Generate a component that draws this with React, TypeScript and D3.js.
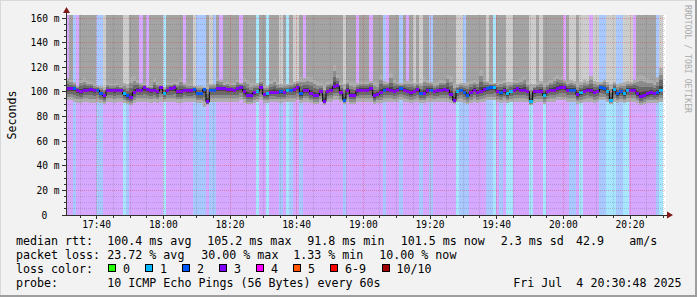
import React from "react";
import * as d3 from "d3";

// ---------- data ----------
const START = new Date(2025, 6, 4, 17, 30, 48);
const END = new Date(2025, 6, 4, 20, 30, 48);
const Y_MAX = 162.44;

// pings lost (out of 10) per 1-minute step
const lossPings = [
  3, 3, 2, 3, 3, 3, 3, 3, 3, 2,
  2, 3, 3, 3, 3, 3, 3, 1, 2, 3,
  3, 3, 3, 3, 3, 3, 3, 3, 3, 1,
  3, 3, 3, 3, 3, 3, 3, 3, 2, 2,
  2, 2, 3, 2, 2, 3, 3, 3, 3, 3,
  3, 3, 3, 3, 3, 3, 3, 1, 3, 3,
  1, 3, 3, 3, 2, 3, 1, 2, 3, 3,
  2, 3, 3, 3, 3, 3, 3, 3, 3, 3,
  3, 3, 3, 2, 3, 3, 3, 3, 3, 3,
  3, 3, 3, 3, 3, 2, 3, 3, 3, 3,
  2, 3, 3, 3, 3, 3, 2, 3, 3, 2,
  3, 3, 3, 3, 3, 3, 3, 1, 2, 2,
  2, 3, 3, 3, 3, 3, 2, 2, 1, 3,
  2, 3, 1, 1, 3, 3, 3, 3, 3, 1,
  3, 3, 3, 1, 3, 3, 3, 3, 3, 3,
  3, 2, 2, 3, 1, 3, 3, 3, 3, 3,
  2, 2, 1, 1, 1, 2, 2, 1, 1, 3,
  3, 3, 3, 3, 3, 3, 3, 2, 1,
];

// shade above the smoke: 0 = grey, 1 = light grey, 2 = none (loss colour shows)
const topShade = [
  2, 0, 2, 2, 0, 0, 0, 0, 0, 2,
  2, 1, 0, 0, 0, 0, 0, 1, 1, 0,
  0, 0, 2, 0, 2, 0, 0, 0, 0, 2,
  0, 0, 0, 0, 0, 2, 0, 0, 1, 2,
  2, 2, 0, 1, 2, 0, 2, 0, 0, 0,
  0, 0, 2, 0, 0, 0, 0, 2, 0, 0,
  2, 0, 0, 0, 1, 0, 2, 0, 1, 1,
  0, 2, 0, 0, 0, 0, 0, 0, 0, 0,
  0, 0, 0, 1, 0, 0, 0, 2, 0, 0,
  0, 2, 0, 0, 0, 2, 2, 0, 0, 0,
  2, 0, 2, 0, 1, 0, 1, 0, 0, 2,
  0, 0, 0, 0, 0, 0, 0, 1, 1, 2,
  0, 0, 0, 0, 0, 0, 1, 0, 2, 0,
  0, 0, 1, 1, 0, 0, 0, 0, 0, 1,
  1, 0, 1, 0, 0, 0, 0, 0, 0, 2,
  0, 1, 1, 0, 1, 1, 1, 2, 1, 1,
  2, 2, 1, 1, 1, 2, 2, 1, 1, 1,
  2, 0, 0, 0, 0, 0, 0, 2, 1,
];

const medianMs = [
  102.6, 102.6, 102.6, 101.0, 100.4, 101.5, 101.5, 102.1, 101.5, 101.5,
  98.8, 96.7, 101.5, 101.5, 101.0, 101.5, 101.5, 98.3, 96.7, 95.6,
  99.9, 101.5, 101.5, 103.2, 102.1, 101.5, 101.5, 100.4, 103.7, 98.8,
  101.5, 102.6, 103.2, 100.4, 100.4, 101.5, 101.0, 101.0, 102.1, 98.8,
  98.8, 102.1, 91.8, 101.5, 101.5, 102.6, 102.6, 102.6, 102.1, 102.1,
  101.5, 102.6, 103.7, 100.4, 97.2, 97.2, 99.4, 100.4, 103.2, 97.8,
  98.3, 99.9, 99.9, 99.4, 100.4, 99.4, 101.5, 101.5, 102.1, 103.7,
  98.3, 101.0, 101.0, 98.8, 97.2, 97.2, 100.4, 92.3, 100.4, 101.5,
  104.3, 104.8, 99.9, 93.4, 101.5, 97.2, 97.2, 101.0, 101.5, 101.5,
  101.5, 102.6, 96.7, 97.7, 99.9, 101.5, 102.1, 101.5, 100.4, 101.5,
  102.6, 101.5, 100.4, 99.4, 100.4, 102.1, 98.8, 98.8, 101.0, 101.5,
  100.4, 101.0, 101.5, 102.1, 101.5, 97.7, 92.9, 100.4, 101.5, 99.9,
  97.2, 99.9, 101.5, 99.9, 100.4, 102.1, 102.6, 103.2, 103.7, 100.4,
  99.4, 101.0, 98.3, 100.4, 101.5, 102.6, 101.5, 101.5, 100.4, 92.3,
  100.4, 100.4, 100.4, 97.2, 100.4, 101.5, 101.5, 102.6, 103.7, 103.7,
  101.5, 101.5, 101.5, 97.7, 99.4, 100.4, 101.5, 101.0, 99.9, 100.4,
  103.7, 102.6, 100.4, 92.9, 102.1, 98.3, 100.4, 98.3, 101.5, 101.5,
  101.5, 98.3, 96.1, 97.2, 98.3, 99.4, 98.8, 99.4, 101.5,
];

const maxMs = [
  111, 110, 108, 105, 110, 111, 109, 108, 106, 105,
  105, 104, 107, 106, 106, 107, 105, 107, 106, 112,
  113, 110, 107, 107, 105, 105, 111, 108, 105, 104,
  107, 107, 108, 108, 111, 107, 106, 106, 105, 105,
  105, 104, 107, 106, 106, 111, 110, 107, 108, 107,
  107, 110, 107, 111, 110, 107, 107, 107, 110, 106,
  105, 109, 111, 108, 106, 107, 106, 107, 108, 109,
  112, 111, 112, 112, 110, 108, 107, 106, 108, 109,
  122, 114, 108, 106, 110, 108, 107, 107, 108, 108,
  108, 109, 108, 107, 114, 109, 108, 115, 110, 108,
  107, 108, 109, 109, 107, 108, 107, 112, 110, 108,
  107, 108, 110, 109, 114, 113, 107, 106, 107, 107,
  108, 109, 110, 109, 118, 110, 109, 108, 107, 108,
  109, 110, 108, 108, 110, 109, 111, 113, 108, 106,
  106, 108, 109, 107, 108, 110, 112, 114, 112, 110,
  108, 110, 109, 107, 108, 110, 109, 113, 109, 108,
  108, 110, 108, 106, 108, 106, 107, 108, 109, 108,
  110, 112, 114, 113, 111, 110, 108, 112, 119,
];

const minMs = [
  93, 93, 92, 91, 91, 92, 92, 91, 91, 92,
  91, 90, 92, 92, 91, 92, 92, 91, 90, 89,
  91, 92, 92, 92, 92, 91, 92, 91, 92, 92,
  92, 92, 92, 91, 91, 92, 92, 92, 92, 91,
  91, 88, 89, 92, 92, 92, 92, 92, 92, 92,
  92, 92, 93, 91, 90, 90, 91, 92, 93, 91,
  91, 92, 92, 92, 91, 92, 92, 92, 92, 93,
  91, 92, 92, 91, 90, 90, 92, 89, 92, 92,
  93, 93, 92, 90, 92, 90, 90, 92, 92, 92,
  92, 92, 90, 91, 91, 92, 92, 92, 92, 92,
  93, 92, 92, 91, 92, 92, 91, 91, 92, 92,
  92, 92, 92, 92, 92, 91, 90, 92, 92, 91,
  90, 91, 92, 91, 92, 92, 93, 93, 93, 92,
  91, 92, 91, 92, 92, 92, 92, 92, 92, 89,
  91, 92, 92, 90, 92, 92, 92, 93, 93, 93,
  92, 92, 92, 90, 91, 92, 92, 92, 91, 92,
  93, 93, 92, 90, 92, 91, 92, 91, 92, 92,
  92, 91, 89, 90, 91, 91, 91, 91, 92,
];

const yTickValues = [0, 20, 40, 60, 80, 100, 120, 140, 160];
const yTickLabels = ["0", "20 m", "40 m", "60 m", "80 m", "100 m", "120 m", "140 m", "160 m"];

const lossLegendLabels = ["0", "1", "2", "3", "4", "5", "6-9", "10/10"];
const lossLegendColors = ["#26ff00", "#00b8ff", "#0059ff", "#7e00ff", "#ff00ff", "#ff5500", "#ff0000", "#a10000"];
const lossBgColors = ["#b4ffa8", "#a8e6ff", "#a8c8ff", "#d6a8ff"];

const rttStats = ["100.4 ms avg", "105.2 ms max", "91.8 ms min", "101.5 ms now", "2.3 ms sd", "42.9", "am/s"];
const lossStats = ["23.72 % avg", "30.00 % max", "1.33 % min", "10.00 % now"];
const probeText = "10 ICMP Echo Pings (56 Bytes) every 60s";
const dateText = "Fri Jul  4 20:30:48 2025";

// ---------- styling ----------
const FONT = "DejaVu Sans Mono";
const TOP_SHADES = ["#a3a3a3", "#cccccc"];
const SMOKE_LAYERS = [
  { f: 1, c: "#adadad" },
  { f: 0.7, c: "#8c8c8c" },
  { f: 0.45, c: "#6a6a6a" },
  { f: 0.2, c: "#464646" },
];
const PRE: React.CSSProperties = { whiteSpace: "pre" };

function legendIndex(l: number) {
  if (l <= 5) return l;
  if (l < 10) return 6;
  return 7;
}

export default function App() {
  const left = 66, right = 666, top = 15, bottom = 215;
  const x = d3.scaleTime().domain([START, END]).range([left, right]);
  const y = d3.scaleLinear().domain([0, Y_MAX]).range([bottom, top]);

  const n = medianMs.length;
  const t = (k: number) => new Date(START.getTime() + k * 60000);
  const cols = d3.range(n).map((k) => ({
    x0: x(t(k)),
    x1: x(t(k + 1)),
    loss: lossPings[k],
    shade: topShade[k],
    med: medianMs[k],
    hi: maxMs[k],
    lo: Math.min(minMs[k], medianMs[k]),
  }));

  const minorTimes = d3.timeMinute.every(5)!.range(START, END);
  const majorTimes = minorTimes.filter((d) => d.getMinutes() % 20 === 0);
  const minorY = d3.range(0, Y_MAX, 5);
  const fmt = d3.timeFormat("%H:%M");
  const px = (v: number) => Math.floor(v) + 0.5;

  const stepLine = d3
    .line<[number, number]>()
    .x((d) => d[0])
    .y((d) => d[1])
    .curve(d3.curveStepAfter);
  const medPts: [number, number][] = cols.map((c) => [c.x0, y(c.med)]);
  medPts.push([cols[n - 1].x1, y(cols[n - 1].med)]);

  const rttX = [107.3, 207.3, 307.3, 400.7, 500.7, 576, 629.3];
  const lossX = [107.3, 201.3, 293.3, 379.3];
  const swX = [108, 145, 182, 219, 256, 293, 330, 381.5];

  const minorStroke = "rgba(100,100,100,0.28)";
  const majorStroke = "rgba(225,60,60,0.42)";

  return (
    <svg
      width={697}
      height={297}
      style={{ position: "absolute", left: 0, top: 0, fontFamily: FONT }}
    >
      <rect x={0} y={0} width={697} height={297} fill="#f2f2f2" />
      <rect x={0} y={0} width={697} height={1} fill="#d8d8d8" />
      <rect x={0} y={0} width={1} height={297} fill="#d8d8d8" />
      <rect x={0} y={295} width={697} height={2} fill="#9e9e9e" />
      <rect x={695} y={0} width={2} height={297} fill="#9e9e9e" />

      {/* canvas */}
      <rect x={left} y={top} width={right - left} height={bottom - top} fill="#ffffff" />

      <g shapeRendering="crispEdges">
        {cols.map((c, k) => (
          <rect
            key={"bg" + k}
            x={c.x0}
            y={top}
            width={c.x1 - c.x0}
            height={bottom - top}
            fill={lossBgColors[Math.min(c.loss, 3)]}
          />
        ))}
        {cols.map((c, k) =>
          c.shade < 2 ? (
            <rect
              key={"tp" + k}
              x={c.x0}
              y={top}
              width={c.x1 - c.x0}
              height={y(c.hi) - top}
              fill={TOP_SHADES[c.shade]}
            />
          ) : null
        )}
        {SMOKE_LAYERS.map((L, li) =>
          cols.map((c, k) => {
            const hi = c.med + (c.hi - c.med) * L.f;
            const lo = c.med - (c.med - c.lo) * L.f;
            return (
              <rect
                key={"sm" + li + "_" + k}
                x={c.x0}
                y={y(hi)}
                width={c.x1 - c.x0}
                height={y(lo) - y(hi)}
                fill={L.c}
              />
            );
          })
        )}
      </g>

      {/* median */}
      <path d={stepLine(medPts) || ""} fill="none" stroke="#000" strokeWidth={1} />
      <g shapeRendering="crispEdges">
        {cols.map((c, k) => (
          <rect
            key={"md" + k}
            x={c.x0}
            y={y(c.med) - 1.5}
            width={c.x1 - c.x0}
            height={3}
            fill={lossLegendColors[legendIndex(c.loss)]}
          />
        ))}
      </g>

      {/* grid */}
      <g shapeRendering="crispEdges" strokeDasharray="1,1" strokeWidth={1}>
        {minorY.map((v) =>
          v % 20 === 0 ? null : (
            <line key={"gy" + v} x1={left} x2={right} y1={px(y(v))} y2={px(y(v))} stroke={minorStroke} />
          )
        )}
        {minorTimes.map((d) =>
          d.getMinutes() % 20 === 0 ? null : (
            <line key={"gx" + +d} x1={px(x(d))} x2={px(x(d))} y1={top} y2={bottom} stroke={minorStroke} />
          )
        )}
        {yTickValues.slice(1).map((v) => (
          <line key={"my" + v} x1={left} x2={right} y1={px(y(v))} y2={px(y(v))} stroke={majorStroke} />
        ))}
        {majorTimes.map((d) => (
          <line key={"mx" + +d} x1={px(x(d))} x2={px(x(d))} y1={top} y2={bottom} stroke={majorStroke} />
        ))}
      </g>

      {/* axes */}
      <g shapeRendering="crispEdges" stroke="#303030">
        <line x1={px(left)} x2={px(left)} y1={bottom + 1} y2={10} />
        <line x1={62} x2={668} y1={px(bottom)} y2={px(bottom)} />
        {minorY.map((v) => (
          <line key={"ty" + v} x1={v % 20 === 0 ? 62 : 64} x2={66} y1={px(y(v))} y2={px(y(v))} />
        ))}
        {minorTimes.map((d) => (
          <line
            key={"tx" + +d}
            x1={px(x(d))}
            x2={px(x(d))}
            y1={bottom}
            y2={d.getMinutes() % 20 === 0 ? bottom + 4 : bottom + 3}
          />
        ))}
      </g>
      <path d="M63,13 L70,13 L66.5,7 Z" fill="#801818" />
      <path d="M667,211.5 L667,218.5 L673,215 Z" fill="#801818" />

      {/* axis labels */}
      <g fontSize={9.6} fill="#000">
        {yTickValues.map((v, i) => (
          <text key={"yl" + v} x={v === 0 ? 47.3 : 59.5} y={y(v) + 3.5} textAnchor="end">
            {yTickLabels[i]}
          </text>
        ))}
        {majorTimes.map((d) => (
          <text key={"xl" + +d} x={x(d)} y={227.5} textAnchor="middle">
            {fmt(d)}
          </text>
        ))}
      </g>
      <text
        transform={`translate(15.5,${(top + bottom) / 2}) rotate(-90)`}
        textAnchor="middle"
        fontSize={11.6}
      >
        Seconds
      </text>
      <text
        transform="translate(684.5,5) rotate(90)"
        fontSize={9.5}
        fill="#aaaaaa"
        textLength={108}
        lengthAdjust="spacingAndGlyphs"
      >
        RRDTOOL / TOBI OETIKER
      </text>

      {/* legend */}
      <g fontSize={11.65} fill="#000">
        <text x={16} y={245} style={PRE}>median rtt:</text>
        {rttStats.map((s, i) => (
          <text key={"r" + i} x={rttX[i]} y={245} style={PRE}>{s}</text>
        ))}
        <text x={16} y={259} style={PRE}>packet loss:</text>
        {lossStats.map((s, i) => (
          <text key={"l" + i} x={lossX[i]} y={259} style={PRE}>{s}</text>
        ))}
        <text x={16} y={272.7} style={PRE}>loss color:</text>
        {lossLegendLabels.map((s, i) => (
          <g key={"sw" + i}>
            <rect x={swX[i] + 0.5} y={264.5} width={7} height={7} fill={lossLegendColors[i]} stroke="#000" strokeWidth={1} shapeRendering="crispEdges" />
            <text x={swX[i] + 15} y={272.7} style={PRE}>{s}</text>
          </g>
        ))}
        <text x={16} y={286.7} style={PRE}>probe:</text>
        <text x={107.3} y={286.7} style={PRE}>{probeText}</text>
        <text x={513.3} y={286.7} xmlSpace="preserve" style={PRE}>{dateText}</text>
      </g>
    </svg>
  );
}
